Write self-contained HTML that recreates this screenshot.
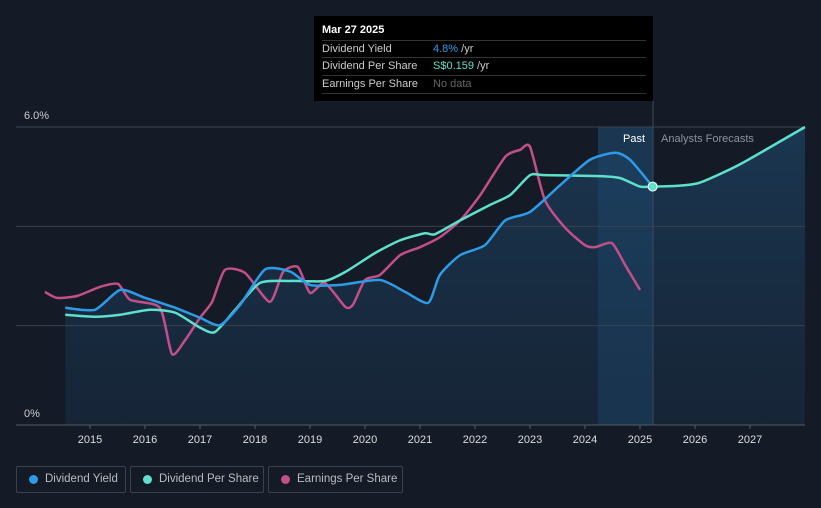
<!DOCTYPE html>
<html><head><meta charset="utf-8"><style>
html,body{margin:0;padding:0;background:#151b26;width:821px;height:508px;overflow:hidden;font-family:"Liberation Sans",sans-serif}
svg{position:absolute;left:0;top:0}
.tt{position:absolute;left:314px;top:16px;width:339px;height:85px;background:#000;color:#ccc;font-size:11px}
.tt .row{position:absolute;left:8px;width:324px;border-top:1px solid #333;height:17px;line-height:17px;white-space:nowrap}
.legend{position:absolute;top:466px;height:27px;border:1px solid #3a4150;border-radius:2px;color:#bbb;font-size:11.5px;line-height:25px;box-sizing:border-box;white-space:nowrap}
.legend i{position:absolute;left:12px;top:8px;width:9px;height:9px;border-radius:50%}
.legend span{position:absolute;left:28px}
</style></head><body>
<svg id="chart" width="821" height="508"></svg>
<div class="tt">
 <div style="position:absolute;left:8px;top:8px;color:#fff;font-size:11px;font-weight:bold">Mar 27 2025</div>
 <div class="row" style="top:24px">Dividend Yield<b style="position:absolute;left:111px;font-weight:normal"><span style="color:#2e9be6">4.8%</span> /yr</b></div>
 <div class="row" style="top:41px">Dividend Per Share<b style="position:absolute;left:111px;font-weight:normal"><span style="color:#5fe0cc">S$0.159</span> /yr</b></div>
 <div class="row" style="top:59px;border-bottom:1px solid #333">Earnings Per Share<b style="position:absolute;left:111px;font-weight:normal;color:#666">No data</b></div>
</div>
<div class="legend" style="left:16px;width:110px"><i style="background:#2e9be6"></i><span>Dividend Yield</span></div>
<div class="legend" style="left:130px;width:134px"><i style="background:#5fe0cc"></i><span>Dividend Per Share</span></div>
<div class="legend" style="left:268px;width:135px"><i style="background:#c34f8a"></i><span>Earnings Per Share</span></div>
<script>
const yieldT=[2014.55,2015.09,2015.55,2016.0,2016.55,2017.0,2017.36,2017.73,2018.18,2018.64,2019.0,2019.55,2020.27,2020.73,2021.15,2021.36,2021.73,2022.18,2022.55,2023.0,2023.55,2024.09,2024.55,2024.82,2025.23];
const yieldV=[2.36,2.32,2.72,2.56,2.36,2.16,2.01,2.42,3.13,3.09,2.82,2.82,2.92,2.68,2.46,3.02,3.42,3.62,4.12,4.29,4.83,5.34,5.48,5.34,4.8];
const dpsT=[2014.55,2015.09,2015.55,2016.09,2016.55,2017.0,2017.27,2017.64,2018.09,2018.64,2019.27,2019.64,2020.18,2020.64,2021.09,2021.27,2021.73,2022.27,2022.64,2023.0,2023.27,2024.27,2024.64,2025.0,2025.23,2025.73,2026.09,2026.82,2028.0];
const dpsV=[2.22,2.18,2.22,2.32,2.26,1.96,1.87,2.32,2.86,2.9,2.9,3.08,3.46,3.72,3.86,3.84,4.12,4.43,4.63,5.03,5.03,5.01,4.97,4.8,4.8,4.82,4.88,5.25,6.0];
const epsT=[2014.18,2014.4,2014.77,2015.18,2015.51,2015.73,2016.27,2016.49,2016.73,2017.0,2017.22,2017.45,2017.82,2018.27,2018.51,2018.78,2019.0,2019.27,2019.64,2019.78,2020.0,2020.27,2020.64,2021.0,2021.36,2021.73,2022.09,2022.55,2022.82,2023.0,2023.27,2023.64,2024.0,2024.18,2024.49,2024.73,2025.0];
const epsV=[2.68,2.56,2.6,2.78,2.84,2.52,2.36,1.43,1.71,2.16,2.48,3.12,3.06,2.48,3.08,3.18,2.66,2.86,2.38,2.42,2.92,3.02,3.42,3.58,3.78,4.12,4.62,5.4,5.54,5.6,4.53,3.97,3.62,3.58,3.66,3.22,2.72];
const yTicks=[0,2,4,6];
const xTicks=[2015,2016,2017,2018,2019,2020,2021,2022,2023,2024,2025,2026,2027];
const NS="http://www.w3.org/2000/svg";
const svg=document.getElementById('chart');
const X=t=>90+(t-2015)*55, Y=v=>425-v*49.67;
function el(tag,a){const e=document.createElementNS(NS,tag);for(const k in a)e.setAttribute(k,a[k]);svg.appendChild(e);return e;}
function path(T,V){const p=T.map((t,i)=>[X(t),Y(V[i])]);let d=`M${p[0][0]},${p[0][1]}`;const k=9;
 for(let i=0;i<p.length-1;i++){const a=p[i-1]||p[i],b=p[i],c=p[i+1],e=p[i+2]||c;
 d+=` C${b[0]+(c[0]-a[0])/k},${b[1]+(c[1]-a[1])/k} ${c[0]-(e[0]-b[0])/k},${c[1]-(e[1]-b[1])/k} ${c[0]},${c[1]}`;}return d;}
const defs=el('defs',{});defs.innerHTML='<linearGradient id="g" x1="0" y1="0" x2="0" y2="1"><stop offset="0" stop-color="#1d4466" stop-opacity="0.9"/><stop offset="1" stop-color="#18304a" stop-opacity="0.6"/></linearGradient>';
let r=el('rect',{x:16,y:127,width:582,height:298,fill:'#151b26'});
r=el('rect',{x:598,y:127,width:55,height:298,fill:'#1a3650'});
const fT=yieldT.concat(dpsT.filter(t=>t>2025.23)), fV=yieldV.concat(dpsV.filter((v,i)=>dpsT[i]>2025.23));
r=el('path',{d:path(fT,fV)+` L${X(2028)},425 L${X(yieldT[0])},425 Z`,fill:'url(#g)',opacity:0.75});
yTicks.forEach(v=>{const g=el('line',{x1:16,x2:805,y1:Y(v),y2:Y(v),stroke:v==0?'#555c68':'#3a414d','stroke-width':1});});
[0,6].forEach(v=>{const t=el('text',{x:24,y:Y(v)-8,fill:'#ccc','font-size':11});t.textContent=v.toFixed(v?1:0)+'%';});
xTicks.forEach(v=>{const t=el('text',{x:X(v),y:443,fill:'#ddd','font-size':11,'text-anchor':'middle'});t.textContent=v;
 const l=el('line',{x1:X(v),x2:X(v),y1:425,y2:429,stroke:'#555c68'});});
r=el('line',{x1:653,x2:653,y1:100,y2:425,stroke:'#3b4a5c'});
let t=el('text',{x:645,y:142,fill:'#fff','font-size':11,'text-anchor':'end'});t.textContent='Past';
t=el('text',{x:661,y:142,fill:'#8a93a0','font-size':11});t.textContent='Analysts Forecasts';
r=el('path',{d:path(epsT,epsV),fill:'none',stroke:'#c34f8a','stroke-width':2.5});
r=el('path',{d:path(dpsT,dpsV),fill:'none',stroke:'#5fe0cc','stroke-width':2.5});
r=el('path',{d:path(yieldT,yieldV),fill:'none',stroke:'#2e9be6','stroke-width':2.5});
r=el('circle',{cx:X(2025.23),cy:Y(4.8),r:4.5,fill:'#5fe0cc',stroke:'#fff','stroke-width':1});
</script>
</body></html>
